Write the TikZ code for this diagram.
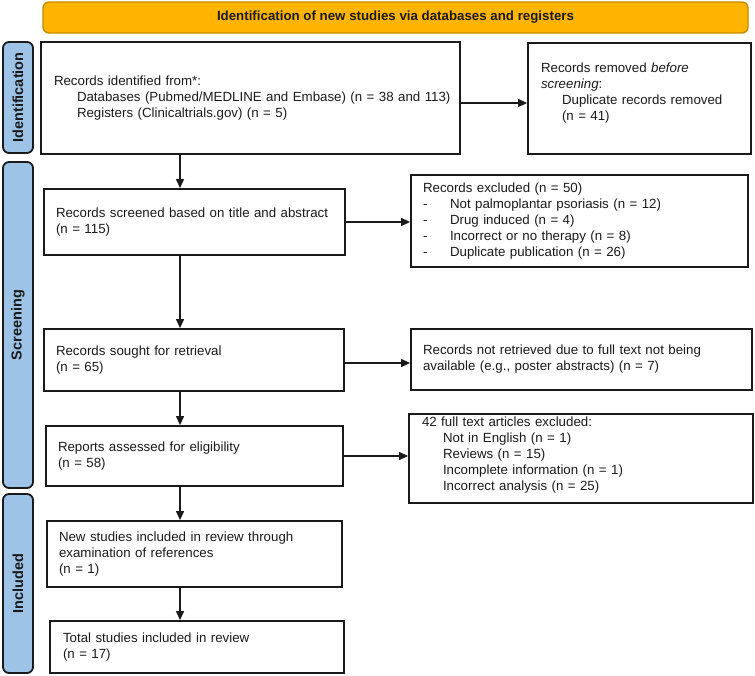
\documentclass[tikz,border=0pt]{standalone}
\usepackage{fontspec}
\setmainfont{Liberation Sans}
\usetikzlibrary{arrows.meta}
\definecolor{bannerfill}{HTML}{FFB400}
\definecolor{bannerdraw}{HTML}{C48C00}
\definecolor{sidefill}{HTML}{9DC3E6}
\definecolor{ink}{HTML}{1A1A1A}
\tikzset{
  box/.style={draw=ink, line width=1.8pt, rectangle, inner ysep=0pt, align=left,
    font=\fontsize{13.3}{16}\selectfont, text=ink},
  side/.style={draw=ink, line width=1.8pt, fill=sidefill, rounded corners=6pt,
    inner sep=0pt, rotate=90, minimum height=30pt,
    font=\fontsize{14.5}{16}\selectfont\bfseries, text=ink},
  banner/.style={draw=bannerdraw, line width=1.4pt, fill=bannerfill, rounded corners=6pt,
    inner sep=0pt, font=\fontsize{13.3}{16}\selectfont\bfseries, text=ink},
  arr/.style={-{Triangle[length=9pt,width=8pt]}, line width=1.2pt, draw=ink},
}
\begin{document}
\begin{tikzpicture}[x=1pt,y=-1pt]
\useasboundingbox (0,0) rectangle (755,676);

% banner
\node[banner, minimum width=705pt, minimum height=31pt] (ban) at (395.5,17.5)
  {Identification of new studies via databases and registers};

% side bars
\node[side, minimum width=111pt] (sid) at (18,97.5) {Identification};
\node[side, minimum width=326pt] (sscr) at (18,325) {Screening};
\node[side, minimum width=179pt] (sinc) at (18,583.5) {Included};

% boxes
\node[box, minimum width=419pt, minimum height=112pt, text width=393pt, inner xsep=13pt]
  (id) at (250.5,98)
  {Records identified from*:\\
   \hspace*{23pt}\mbox{Databases (Pubmed/MEDLINE and Embase) (n = 38 and 113)}\\
   \hspace*{23pt}Registers (Clinicaltrials.gov) (n = 5)};

\node[box, minimum width=223pt, minimum height=111pt, text width=197pt, inner xsep=13pt]
  (rem) at (639.5,98.5)
  {Records removed \textit{before}\\
   \textit{screening}:\\
   \hspace*{21pt}Duplicate records removed\\
   \hspace*{21pt}(n = 41)\\[-3pt]\mbox{}};

\node[box, minimum width=301pt, minimum height=66pt, text width=277pt, inner xsep=12pt]
  (scr) at (194.5,222)
  {Records screened based on title and abstract\\(n = 115)};

\node[box, minimum width=337pt, minimum height=92pt, text width=313pt, inner xsep=12pt]
  (exc) at (579.5,221)
  {Records excluded (n = 50)\\
   \makebox[27pt][l]{-}Not palmoplantar psoriasis (n = 12)\\
   \makebox[27pt][l]{-}Drug induced (n = 4)\\
   \makebox[27pt][l]{-}Incorrect or no therapy (n = 8)\\
   \makebox[27pt][l]{-}Duplicate publication (n = 26)};

\node[box, minimum width=300pt, minimum height=62pt, text width=276pt, inner xsep=12pt]
  (sou) at (194,360)
  {Records sought for retrieval\\(n = 65)};

\node[box, minimum width=341pt, minimum height=61pt, text width=317pt, inner xsep=12pt]
  (nr) at (581.5,359.5)
  {Records not retrieved due to full text not being\\
   available (e.g., poster abstracts) (n = 7)};

\node[box, minimum width=297pt, minimum height=60pt, text width=273pt, inner xsep=12pt]
  (rep) at (194.5,456)
  {Reports assessed for eligibility\\(n = 58)};

\node[box, minimum width=344pt, minimum height=89pt, text width=318pt, inner xsep=13pt]
  (ft) at (581,458.5)
  {42 full text articles excluded:\\
   \hspace*{21pt}Not in English (n = 1)\\
   \hspace*{21pt}Reviews (n = 15)\\
   \hspace*{21pt}Incomplete information (n = 1)\\
   \hspace*{21pt}Incorrect analysis (n = 25)\\[-6pt]\mbox{}};

\node[box, minimum width=295pt, minimum height=66pt, text width=271pt, inner xsep=12pt]
  (new) at (194.5,554)
  {New studies included in review through\\
   examination of references\\
   (n = 1)};

\node[box, minimum width=294pt, minimum height=52pt, text width=268pt, inner xsep=13pt]
  (tot) at (197,647)
  {Total studies included in review\\(n = 17)};

% connectors
\coordinate (spine) at (180,0);
\draw[arr] (id.south -| spine) -- (scr.north -| spine);
\draw[arr] (scr.south -| spine) -- (sou.north -| spine);
\draw[arr] (sou.south -| spine) -- (rep.north -| spine);
\draw[arr] (rep.south -| spine) -- (new.north -| spine);
\draw[arr] (new.south -| spine) -- (tot.north -| spine);
\draw[arr] ([yshift=-5pt]id.east) -- ([yshift=-5pt]id.east -| rem.west);
\draw[arr] (scr.east) -- (scr.east -| exc.west);
\draw[arr] ([yshift=-3pt]sou.east) -- ([yshift=-3pt]sou.east -| nr.west);
\draw[arr] (rep.east) -- (rep.east -| ft.west);
\end{tikzpicture}
\end{document}
